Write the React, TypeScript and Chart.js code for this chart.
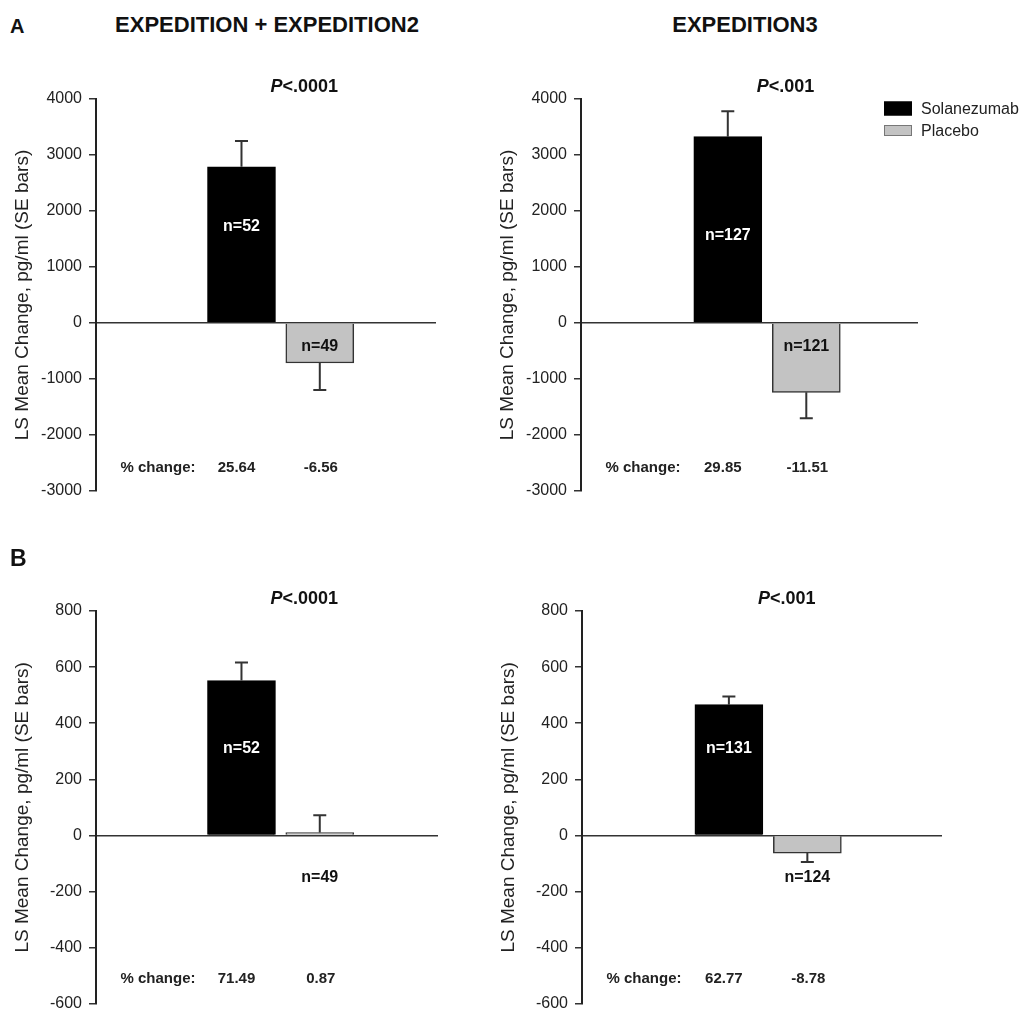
import React, { useEffect, useRef } from 'react';
import { Chart, registerables } from 'chart.js';

Chart.register(...registerables);

const FAMILY = '"Liberation Sans", Arial, Helvetica, sans-serif';
Chart.defaults.font.family = FAMILY;

// ---------- data ----------
const SERIES = ['Solanezumab', 'Placebo'];
const SLOTS = [1, 2];
const HEADERS = ['EXPEDITION + EXPEDITION2', 'EXPEDITION3'];
const ROWS = ['A', 'B'];
const Y_TITLE = 'LS Mean Change, pg/ml (SE bars)';
const PCT_LABEL = '% change:';

const A_RANGE = [-3000, 4000, 1000];
const B_RANGE = [-600, 800, 200];

const A1_MEAN = [2790, -714];
const A1_SE = [460, 482];
const A1_N = [52, 49];
const A1_PCT = ['25.64', '-6.56'];
const A1_P = '.0001';

const A2_MEAN = [3327, -1238];
const A2_SE = [455, 464];
const A2_N = [127, 121];
const A2_PCT = ['29.85', '-11.51'];
const A2_P = '.001';

const B1_MEAN = [552, 10];
const B1_SE = [64, 62];
const B1_N = [52, 49];
const B1_PCT = ['71.49', '0.87'];
const B1_P = '.0001';

const B2_MEAN = [466, -63];
const B2_SE = [29, 32];
const B2_N = [131, 124];
const B2_PCT = ['62.77', '-8.78'];
const B2_P = '.001';

// ---------- styles ----------
const FILLS = ['#000000', '#c3c3c3'];
const BORDERS = ['#000000', '#333333'];
const TEXT = '#222222';

type Panel = {
  left: number; top: number; width: number; height: number;
  padTop: number; padBottom: number; padRight: number;
  xMin: number; xMax: number;
  range: number[];
  means: number[]; se: number[]; n: number[]; pct: string[]; p: string;
  nOffsets: number[];
  pctOffset: number;
  legend: boolean;
};

const PANELS: Panel[] = [
  { left: 0, top: 40, width: 500, height: 480, padTop: 59, padBottom: 29, padRight: 64,
    xMin: -0.858, xMax: 3.484, range: A_RANGE,
    means: A1_MEAN, se: A1_SE, n: A1_N, pct: A1_PCT, p: A1_P,
    nOffsets: [-96, 24], pctOffset: 23, legend: false },
  { left: 485, top: 40, width: 537, height: 480, padTop: 59, padBottom: 29, padRight: 104,
    xMin: -0.870, xMax: 3.423, range: A_RANGE,
    means: A2_MEAN, se: A2_SE, n: A2_N, pct: A2_PCT, p: A2_P,
    nOffsets: [-87, 24], pctOffset: 23, legend: true },
  { left: 0, top: 560, width: 500, height: 450, padTop: 51, padBottom: 6.3, padRight: 62,
    xMin: -0.858, xMax: 3.510, range: B_RANGE,
    means: B1_MEAN, se: B1_SE, n: B1_N, pct: B1_PCT, p: B1_P,
    nOffsets: [-87, 42], pctOffset: 25, legend: false },
  { left: 486, top: 560, width: 536, height: 450, padTop: 51, padBottom: 6.3, padRight: 80,
    xMin: -0.872, xMax: 3.716, range: B_RANGE,
    means: B2_MEAN, se: B2_SE, n: B2_N, pct: B2_PCT, p: B2_P,
    nOffsets: [-87, 42], pctOffset: 25, legend: false },
];

function annotPlugin(p: Panel) {
  return {
    id: 'annot',
    afterDatasetsDraw(chart: any) {
      const { ctx, scales } = chart;
      const y = scales.y;
      ctx.save();
      ctx.strokeStyle = '#333';
      ctx.lineWidth = 2;
      chart.data.datasets.forEach((_ds: any, i: number) => {
        const el = chart.getDatasetMeta(i).data[0];
        const m = p.means[i];
        const s = p.se[i];
        const end = y.getPixelForValue(m >= 0 ? m + s : m - s);
        ctx.beginPath();
        ctx.moveTo(el.x, el.y);
        ctx.lineTo(el.x, end);
        ctx.moveTo(el.x - 6.5, end);
        ctx.lineTo(el.x + 6.5, end);
        ctx.stroke();
      });
      ctx.restore();
    },
    afterDraw(chart: any) {
      const { ctx, chartArea, scales } = chart;
      const y = scales.y;
      const zero = y.getPixelForValue(0);
      const els = chart.data.datasets.map((_d: any, i: number) => chart.getDatasetMeta(i).data[0]);
      ctx.save();
      ctx.textBaseline = 'middle';
      // n labels
      ctx.textAlign = 'center';
      ctx.font = `bold 16px ${FAMILY}`;
      p.n.forEach((nv, i) => {
        ctx.fillStyle = i === 0 ? '#ffffff' : '#111111';
        ctx.fillText(`n=${nv}`, els[i].x, zero + p.nOffsets[i]);
      });
      // P value
      const px = els[0].x + 29;
      const py = chartArea.top - 12;
      ctx.textAlign = 'left';
      ctx.fillStyle = '#111111';
      ctx.font = `italic bold 18px ${FAMILY}`;
      ctx.fillText('P', px, py);
      const w = ctx.measureText('P').width;
      ctx.font = `bold 18px ${FAMILY}`;
      ctx.fillText('<' + p.p, px + w, py);
      // % change row
      const ry = chartArea.bottom - p.pctOffset;
      ctx.textAlign = 'center';
      ctx.font = `bold 15px ${FAMILY}`;
      ctx.fillStyle = '#222';
      ctx.fillText(PCT_LABEL, chartArea.left + 62, ry);
      ctx.fillText(p.pct[0], els[0].x - 5, ry);
      ctx.fillText(p.pct[1], els[1].x + 1, ry);
      // legend
      if (p.legend) {
        const lx = chartArea.right - 34;
        const rows = [chartArea.top + 9.5, chartArea.top + 31.5];
        const hs = [14, 11];
        chart.data.datasets.forEach((ds: any, i: number) => {
          ctx.fillStyle = FILLS[i];
          ctx.fillRect(lx, rows[i] - hs[i] / 2, 28, hs[i]);
          ctx.strokeStyle = i === 0 ? '#000' : '#777';
          ctx.lineWidth = 1;
          ctx.strokeRect(lx + 0.5, rows[i] - hs[i] / 2 + 0.5, 27, hs[i] - 1);
          ctx.fillStyle = '#222';
          ctx.textAlign = 'left';
          ctx.font = `16px ${FAMILY}`;
          ctx.fillText(ds.label, lx + 37, rows[i] + 1);
        });
      }
      ctx.restore();
    },
  };
}

function makeConfig(p: Panel): any {
  return {
    type: 'bar',
    data: {
      datasets: SERIES.map((name, i) => ({
        label: name,
        data: [{ x: SLOTS[i], y: p.means[i] }],
        backgroundColor: FILLS[i],
        borderColor: BORDERS[i],
        borderWidth: 1.5,
        barThickness: 68,
        grouped: false,
      })),
    },
    options: {
      responsive: false,
      animation: false,
      events: [],
      layout: { padding: { top: p.padTop, bottom: p.padBottom, left: 0, right: p.padRight } },
      plugins: { legend: { display: false }, tooltip: { enabled: false } },
      scales: {
        x: { type: 'linear', min: p.xMin, max: p.xMax, display: false, offset: false },
        y: {
          min: p.range[0],
          max: p.range[1],
          ticks: {
            stepSize: p.range[2],
            callback: (v: number) => String(v),
            font: { size: 16, family: FAMILY },
            color: TEXT,
            padding: 7,
          },
          grid: {
            color: (c: any) => (c.tick && c.tick.value === 0 ? '#333333' : 'rgba(0,0,0,0)'),
            lineWidth: 1.5,
            tickColor: '#333333',
            tickLength: 7,
            tickWidth: 1.5,
            drawOnChartArea: true,
          },
          border: { display: true, color: '#222222', width: 2 },
          title: {
            display: true,
            text: Y_TITLE,
            font: { size: 19, family: FAMILY },
            color: TEXT,
            padding: { top: 11.6, bottom: 0 },
          },
          afterFit: (s: any) => {
            s.width = 96;
            s.paddingTop = 0;
            s.paddingBottom = 0;
          },
        },
      },
    },
    plugins: [annotPlugin(p)],
  };
}

function ChartPanel({ p }: { p: Panel }) {
  const ref = useRef<HTMLCanvasElement>(null);
  useEffect(() => {
    const chart = new Chart(ref.current as HTMLCanvasElement, makeConfig(p));
    return () => chart.destroy();
  }, []);
  return (
    <canvas
      ref={ref}
      width={p.width}
      height={p.height}
      style={{ position: 'absolute', left: p.left, top: p.top, width: p.width, height: p.height }}
    />
  );
}

const textBase: React.CSSProperties = {
  position: 'absolute',
  fontWeight: 'bold',
  lineHeight: 1,
  color: '#111',
  whiteSpace: 'nowrap',
};

export default function App() {
  return (
    <div
      style={{
        position: 'absolute', left: 0, top: 0, width: 1022, height: 1010,
        overflow: 'hidden', background: '#ffffff', fontFamily: FAMILY,
      }}
    >
      {PANELS.map((p, i) => (
        <ChartPanel key={i} p={p} />
      ))}
      <div style={{ ...textBase, left: 10, top: 26, fontSize: 20, transform: 'translateY(-50%)' }}>{ROWS[0]}</div>
      <div style={{ ...textBase, left: 10, top: 558, fontSize: 23, transform: 'translateY(-50%)' }}>{ROWS[1]}</div>
      <div style={{ ...textBase, left: 267, top: 25, fontSize: 22, transform: 'translate(-50%, -50%)' }}>{HEADERS[0]}</div>
      <div style={{ ...textBase, left: 745, top: 25, fontSize: 22, transform: 'translate(-50%, -50%)' }}>{HEADERS[1]}</div>
    </div>
  );
}
